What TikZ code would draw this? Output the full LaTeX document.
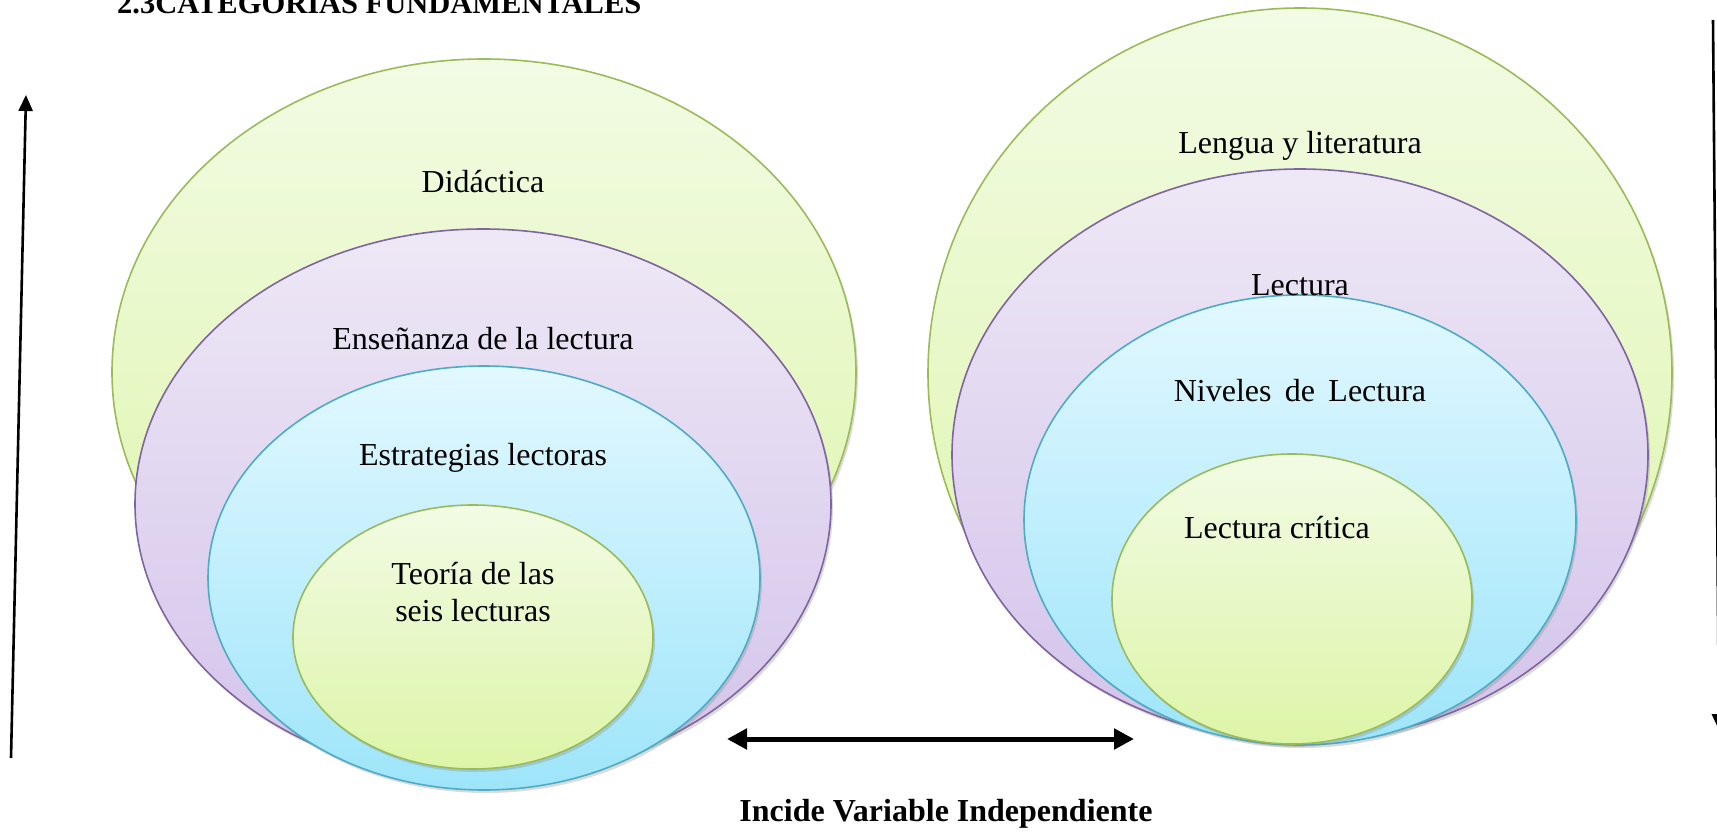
\documentclass[tikz,border=0pt]{standalone}
\usepackage{fontspec}
\setmainfont{Liberation Serif}
\usetikzlibrary{shapes.geometric,shadows,arrows.meta}
\definecolor{gedge}{HTML}{9BBB59}
\definecolor{gtop}{HTML}{F2FBE4}
\definecolor{gbot}{HTML}{DDF5A8}
\definecolor{pedge}{HTML}{8064A2}
\definecolor{ptop}{HTML}{EEE8F6}
\definecolor{pbot}{HTML}{D3C3EA}
\definecolor{bedge}{HTML}{4BACC6}
\definecolor{btop}{HTML}{E2F8FF}
\definecolor{bbot}{HTML}{9EE5FA}
\tikzset{
  ell/.style={ellipse, inner sep=0pt, line width=1.6pt,
    drop shadow={opacity=0.28, shadow xshift=2pt, shadow yshift=-3pt}},
  gell/.style={ell, draw=gedge, top color=gtop, bottom color=gbot},
  pell/.style={ell, draw=pedge, top color=ptop, bottom color=pbot},
  bell/.style={ell, draw=bedge, top color=btop, bottom color=bbot},
  lbl/.style={font=\fontsize{32}{37}\selectfont, align=center, inner sep=0pt},
  bold/.style={font=\fontsize{32}{38}\selectfont\bfseries, inner sep=0pt}
}
\begin{document}
\begin{tikzpicture}[x=1pt,y=-1pt]
\useasboundingbox (0,0) rectangle (1717,832);
\clip (0,0) rectangle (1717,832);
\fill[white] (0,0) rectangle (1717,832);
% title
\node[bold, font=\fontsize{30.5}{36}\selectfont\bfseries, anchor=base west] (title) at (117,14) {2.3CATEGORIAS FUNDAMENTALES};
% left group
\node[gell, minimum width=744pt, minimum height=626pt] (did) at (484,372) {};
\node[pell, minimum width=696pt, minimum height=550pt] (ens) at (483,504) {};
\node[bell, minimum width=552pt, minimum height=424pt] (est) at (484,578) {};
\node[gell, minimum width=360pt, minimum height=264pt] (teo) at (473,637) {};
\node[lbl] (tdid) at (483,182) {Didáctica};
\node[lbl] (tens) at (483,339) {Enseñanza de la lectura};
\node[lbl] (test) at (483,458) {Estrategias lectoras};
\node[lbl] (tteo) at (473,592) {Teoría de las\\seis lecturas};
% right group
\node[gell, minimum width=744pt, minimum height=730pt] (len) at (1300,373) {};
\node[pell, minimum width=696pt, minimum height=572pt] (lec) at (1300,455) {};
\node[bell, minimum width=552pt, minimum height=450pt] (niv) at (1300,520) {};
\node[gell, minimum width=360pt, minimum height=290pt] (cri) at (1292,599) {};
\node[lbl] (tlen) at (1300,146) {Lengua y literatura};
\node[lbl] (tlec) at (1300,285) {Lectura};
\node[lbl] (tniv) at (1300,391) {Niveles\, de\, Lectura};
\node[lbl] (tcri) at (1277,528) {Lectura crítica};
% arrows
\coordinate (la1) at (11,758);
\coordinate (la2) at (26,95);
\draw[line width=2.6pt, -{Triangle[length=16pt,width=14pt]}] (la1) -- (la2);
\coordinate (ra1) at (1713,20);
\coordinate (ra2) at (1719,730);
\draw[line width=2.6pt, -{Triangle[length=16pt,width=14pt]}] (ra1) -- (ra2);
\coordinate (ba1) at (727,739);
\coordinate (ba2) at (1134,739);
\draw[line width=5pt, {Triangle[length=20pt,width=20pt]}-{Triangle[length=20pt,width=20pt]}] (ba1) -- (ba2);
\node[bold] (inc) at (946,814) {Incide Variable Independiente};
\end{tikzpicture}
\end{document}
